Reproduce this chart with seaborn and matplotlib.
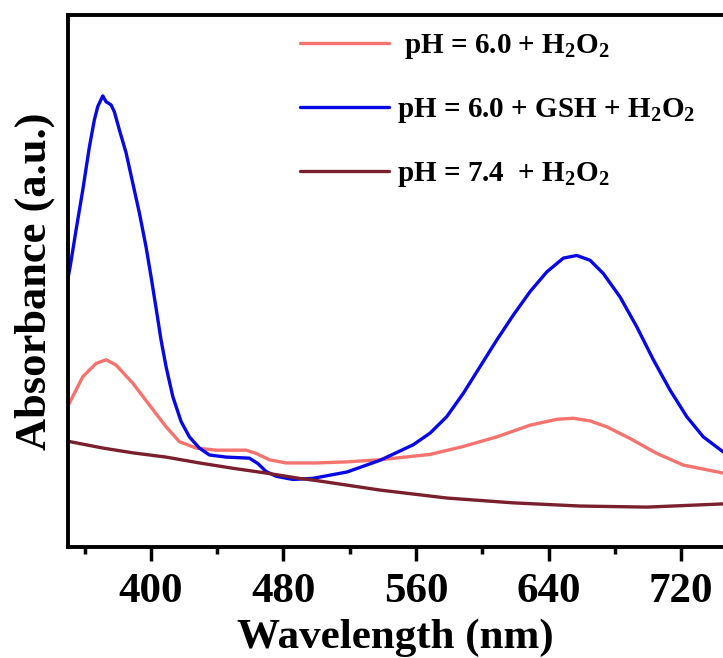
import numpy as np
import pandas as pd
import matplotlib
matplotlib.use("Agg")
import matplotlib.pyplot as plt
import seaborn as sns

# ---- data ----
wl_blue = [350.04, 351.25, 354.87, 358.91, 362.90, 365.91, 367.96, 370.98, 372.97,
           375.99, 377.98, 381.00, 385.04, 389.08, 393.06, 397.10, 400.12, 403.14,
           406.15, 409.17, 413.21, 418.22, 423.23, 429.26, 435.29, 445.37, 459.43,
           464.50, 469.50, 475.54, 485.61, 497.68, 518.37, 538.28, 558.19, 568.45,
           578.52, 588.54, 598.61, 608.69, 618.70, 628.78, 638.85, 648.87, 656.95,
           664.98, 673.00, 683.08, 693.15, 703.17, 713.24, 723.32, 733.33, 745.22]
abs_blue = [0.506, 0.526, 0.596, 0.671, 0.752, 0.803, 0.828, 0.848, 0.837,
            0.831, 0.818, 0.784, 0.741, 0.684, 0.628, 0.564, 0.508, 0.449,
            0.389, 0.339, 0.283, 0.236, 0.207, 0.186, 0.173, 0.169, 0.167,
            0.157, 0.142, 0.133, 0.127, 0.129, 0.141, 0.163, 0.192, 0.214,
            0.245, 0.289, 0.339, 0.389, 0.436, 0.480, 0.517, 0.543, 0.548,
            0.539, 0.514, 0.470, 0.414, 0.352, 0.295, 0.245, 0.207, 0.179]

wl_pink = [350.04, 351.25, 358.91, 366.94, 372.97, 379.00, 389.08, 399.10, 409.17,
           417.19, 427.27, 439.34, 457.44, 463.47, 471.49, 481.57, 499.67, 518.37,
           538.28, 568.45, 588.54, 608.69, 628.78, 644.89, 654.90, 664.98, 675.05,
           689.11, 705.22, 721.27, 745.22]
abs_pink = [0.266, 0.273, 0.320, 0.345, 0.352, 0.342, 0.308, 0.267, 0.226,
            0.198, 0.186, 0.182, 0.182, 0.176, 0.164, 0.158, 0.158, 0.160,
            0.164, 0.174, 0.189, 0.207, 0.229, 0.240, 0.242, 0.237, 0.226,
            0.204, 0.176, 0.154, 0.139]

wl_maroon = [350.04, 351.25, 370.98, 389.08, 409.17, 429.26, 449.41, 469.50, 489.59,
             499.67, 538.28, 578.70, 618.52, 658.94, 699.37, 745.22]
abs_maroon = [0.199, 0.198, 0.186, 0.177, 0.169, 0.158, 0.148, 0.139, 0.129,
              0.125, 0.107, 0.092, 0.083, 0.077, 0.075, 0.081]

labels = [" pH = 6.0 + H$_2$O$_2$",
          "pH = 6.0 + GSH + H$_2$O$_2$",
          "pH = 7.4  + H$_2$O$_2$"]
colors = ["#F4736E", "#0808E4", "#7A1F2D"]
x_ticks = [400, 480, 560, 640, 720]
x_minor = [360, 440, 520, 600, 680]

# ---- build long table ----
frames = []
for lab, w, a in zip(labels, [wl_pink, wl_blue, wl_maroon],
                     [abs_pink, abs_blue, abs_maroon]):
    frames.append(pd.DataFrame({"wl": w, "abs": a, "series": lab}))
df = pd.concat(frames, ignore_index=True)

sns.set_style("white")
plt.rcParams["font.family"] = ["Liberation Serif", "DejaVu Serif"]
plt.rcParams["font.weight"] = "bold"
plt.rcParams["text.color"] = "black"
plt.rcParams["axes.labelcolor"] = "black"
plt.rcParams["xtick.color"] = "black"
plt.rcParams["mathtext.fontset"] = "custom"
plt.rcParams["mathtext.rm"] = "Liberation Serif:bold"
plt.rcParams["mathtext.it"] = "Liberation Serif:bold"
plt.rcParams["mathtext.bf"] = "Liberation Serif:bold"

fig = plt.figure(figsize=(7.23, 6.58), dpi=100)
ax = fig.add_axes([68 / 723, 1 - 547 / 658, 1 - 68 / 723, (547 - 15) / 658])

sns.lineplot(data=df, x="wl", y="abs", hue="series", hue_order=labels,
             palette=colors, linewidth=2.4, ax=ax, legend=True, sort=True)

ax.set_xlim(350, 745.2)
ax.set_ylim(0.0, 1.0)
ax.set_xticks(x_ticks)
ax.set_xticks(x_minor, minor=True)
ax.set_yticks([])
ax.tick_params(axis="x", which="major", direction="out", length=10, width=2.5,
               labelsize=31, pad=9, bottom=True, colors="black")
ax.tick_params(axis="x", which="minor", direction="out", length=5, width=2.5,
               bottom=True, colors="black")
for lbl in ax.get_xticklabels():
    lbl.set_fontweight("bold")

ax.set_xlabel("Wavelength (nm)", fontsize=31, fontweight="bold", labelpad=5)
ax.set_ylabel("Absorbance (a.u.)", fontsize=32, fontweight="bold", labelpad=9)

for side in ["left", "bottom", "top"]:
    ax.spines[side].set_visible(True)
    ax.spines[side].set_linewidth(2.8)
    ax.spines[side].set_color("black")
ax.spines["right"].set_visible(False)

handles, _ = ax.get_legend_handles_labels()
leg = ax.legend(handles=handles, labels=labels, frameon=False,
                loc="upper left", bbox_to_anchor=(300 / 723, 1 - 32 / 658),
                bbox_transform=fig.transFigure, borderaxespad=0, borderpad=0,
                handlelength=3.05, handletextpad=0.27, labelspacing=1.2,
                prop={"family": "Liberation Serif", "weight": "bold", "size": 21})
for line in leg.get_lines():
    line.set_linewidth(2.4)

fig.savefig("out.png", dpi=100)
